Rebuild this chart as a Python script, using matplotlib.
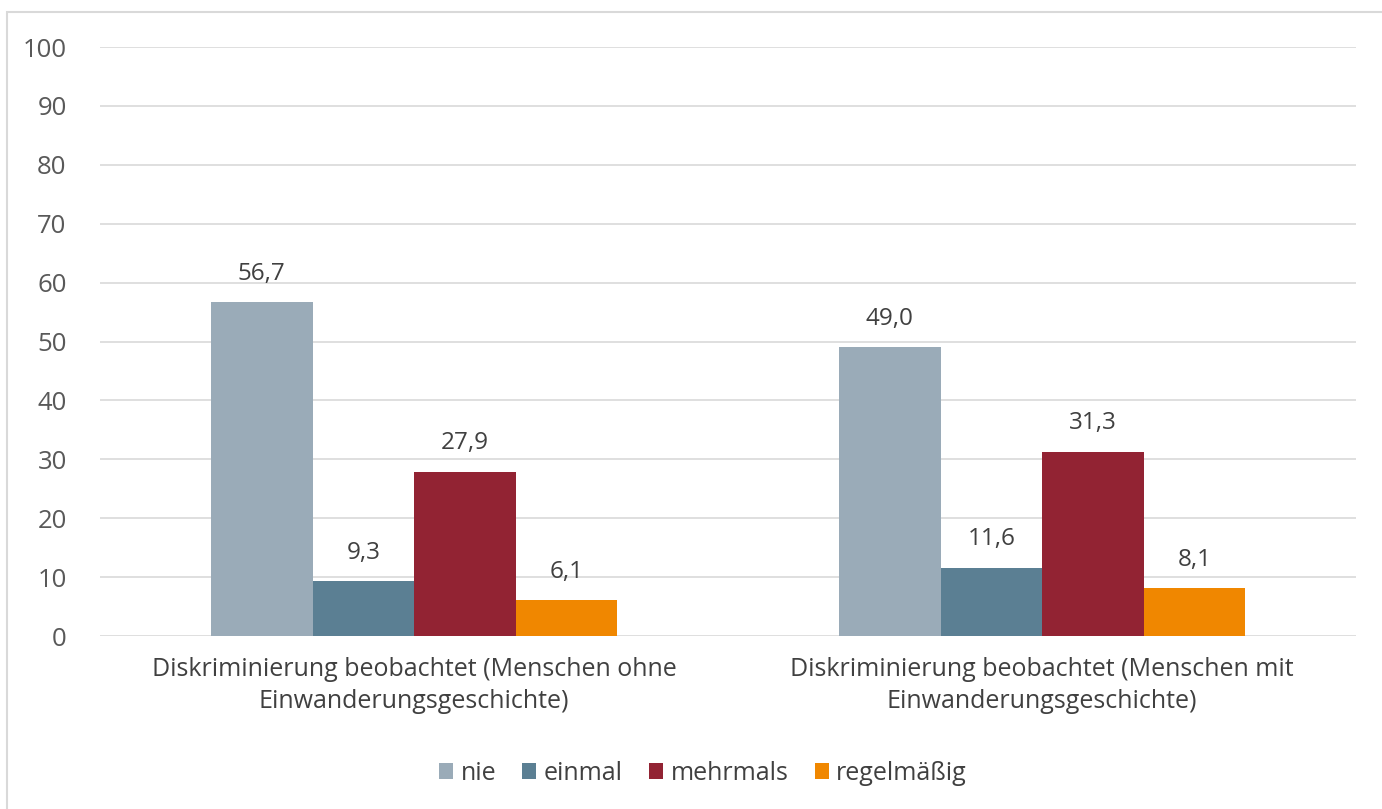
import matplotlib
matplotlib.use("Agg")
import matplotlib.pyplot as plt
from matplotlib.patches import Rectangle
import numpy as np

kategorien = ["Diskriminierung beobachtet (Menschen ohne\nEinwanderungsgeschichte)",
              "Diskriminierung beobachtet (Menschen mit\nEinwanderungsgeschichte)"]
serien = ["nie", "einmal", "mehrmals", "regelmäßig"]
nie = [56.7, 49.0]
einmal = [9.3, 11.6]
mehrmals = [27.9, 31.3]
regelmaessig = [6.1, 8.1]
farben = ["#9AABB8", "#5B7F93", "#922333", "#F08700"]

plt.rcParams['font.family'] = ['Open Sans', 'DejaVu Sans']

fig = plt.figure(figsize=(13.82, 8.09), dpi=100)
ax = fig.add_axes([0.0724, 0.2138, 0.9088, 0.7281])

# Rahmen um das Diagramm
fig.patches.append(Rectangle((7 / 1382, -0.1), 1.2, (809 - 12) / 809 + 0.1,
                             transform=fig.transFigure, fill=False,
                             edgecolor="#D9D9D9", linewidth=1.5))

x = np.arange(len(kategorien))
breite = 0.1616
werte = [nie, einmal, mehrmals, regelmaessig]
for i, (name, w, f) in enumerate(zip(serien, werte, farben)):
    pos = x + (i - 1.5) * breite
    ax.bar(pos, w, breite, color=f, label=name, zorder=3)
    for p, v in zip(pos, w):
        ax.annotate(f"{v:.1f}".replace(".", ","), (p, v), xytext=(0, 16),
                    textcoords="offset points", ha="center", va="baseline",
                    fontsize=17.5, color="#404040")

ax.set_xlim(-0.5, 1.5)
ax.set_ylim(0, 100)
ax.set_yticks(range(0, 101, 10))
ax.yaxis.grid(True, color="#D9D9D9", linewidth=1.2, zorder=0)
ax.set_xticks(x)
ax.set_xticklabels(kategorien, fontsize=18, color="#404040", linespacing=1.4)
ax.tick_params(axis="y", labelsize=18.5, labelcolor="#595959", length=0, pad=24)
ax.tick_params(axis="x", length=0, pad=15)
for s in ax.spines.values():
    s.set_visible(False)

ax.legend(loc="center", bbox_to_anchor=(0.480, -0.233),
          ncol=4, frameon=False, fontsize=18, handlelength=0.56,
          handleheight=0.56, handletextpad=0.3, columnspacing=1.05,
          labelcolor="#404040")

fig.savefig("out.png", dpi=100)
